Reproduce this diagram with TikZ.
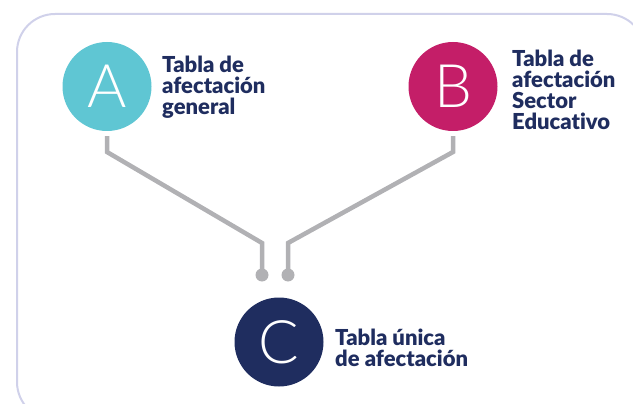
\documentclass[tikz,border=0pt]{standalone}
\usepackage{fontspec}
\setmainfont{Lato}
\newfontfamily\thinfont{Lato Light}
\newfontfamily\heavyfont[Ligatures=NoCommon]{Lato Black}
\definecolor{cA}{HTML}{5FC6D3}
\definecolor{cB}{HTML}{C41E68}
\definecolor{cC}{HTML}{1F2D5F}
\definecolor{navy}{HTML}{1F2D5F}
\definecolor{lav}{HTML}{D0D1EA}
\definecolor{conn}{HTML}{B1B1B4}
\begin{document}
\begin{tikzpicture}[x=1pt,y=-1pt,
  bubble/.style={circle,minimum size=89pt,inner sep=0pt,text=white,
    font=\thinfont\fontsize{60}{60}\selectfont},
  lbl/.style={anchor=west,align=left,text=navy,inner sep=0pt,
    font=\heavyfont\fontsize{22}{21}\selectfont},
  wire/.style={conn,line width=4.5pt},
  dot/.style={circle,fill=conn,minimum size=13pt,inner sep=0pt}]
\useasboundingbox (0,0) rectangle (633,404);
\begin{scope}
\clip (0,0) rectangle (633,404);
\draw[lav,line width=2pt,rounded corners=38pt] (17,14) rectangle (645,420);
\end{scope}
\node[bubble,fill=cA] (A) at (107,86.5) {A};
\node[bubble,fill=cB] (B) at (453,86.5) {B};
\node[bubble,fill=cC] (C) at (279,342) {C};
\node[lbl] (la) at (162,87) {Tabla de\\afectación\\general};
\node[lbl] (lb) at (512,90) {Tabla de\\afectación\\Sector\\Educativo};
\node[lbl] (lc) at (335,348) {Tabla única\\de afectación};
\node[dot] (dl) at (262,275) {};
\node[dot] (dr) at (288,275) {};
\coordinate (ka) at (107,152);
\coordinate (kb) at (453,152);
\coordinate (ma) at (262,243);
\coordinate (mb) at (288,243);
\draw[wire,shorten <=5pt] (A.south) -- (ka) -- (ma) -- (dl.center);
\draw[wire,shorten <=5pt] (B.south) -- (kb) -- (mb) -- (dr.center);
\end{tikzpicture}
\end{document}
